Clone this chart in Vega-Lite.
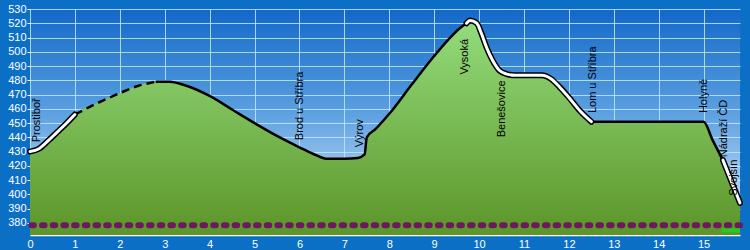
{
  "$schema": "https://vega.github.io/schema/vega-lite/v6.json",
  "width": 710,
  "height": 226,
  "autosize": {"type": "none"},
  "padding": {"left": 30, "top": 9, "right": 10, "bottom": 15},
  "background": "#0b6fc6",
  "config": {
    "view": {
      "stroke": null,
      "fill": {"gradient": "linear", "x1": 0, "y1": 0, "x2": 0, "y2": 1, "stops": [{"offset": 0, "color": "#1268c8"}, {"offset": 0.45, "color": "#5a9fe0"}, {"offset": 1, "color": "#e2f0fb"}]}
    },
    "axis": {"labelFont": "Liberation Sans", "labelFontSize": 11, "labelColor": "#ffffff", "title": null}
  },
  "datasets": {
    "pts": [
      {"km": 0, "elev": 430, "seg": "A", "sty": "white"},
      {"km": 0.2, "elev": 432, "seg": "A", "sty": "white"},
      {"km": 0.4, "elev": 437.5, "seg": "A", "sty": "white"},
      {"km": 0.6, "elev": 443.5, "seg": "A", "sty": "white"},
      {"km": 0.8, "elev": 449.5, "seg": "A", "sty": "white"},
      {"km": 1, "elev": 456, "seg": "A", "sty": "white"},
      {"km": 1, "elev": 456, "seg": "B", "sty": "dash"},
      {"km": 1.5, "elev": 464, "seg": "B", "sty": "dash"},
      {"km": 2, "elev": 471, "seg": "B", "sty": "dash"},
      {"km": 2.4, "elev": 476, "seg": "B", "sty": "dash"},
      {"km": 2.8, "elev": 479, "seg": "B", "sty": "dash"},
      {"km": 2.8, "elev": 479, "seg": "C", "sty": "solid"},
      {"km": 3.1, "elev": 479, "seg": "C", "sty": "solid"},
      {"km": 3.5, "elev": 476, "seg": "C", "sty": "solid"},
      {"km": 4, "elev": 469, "seg": "C", "sty": "solid"},
      {"km": 4.5, "elev": 459.5, "seg": "C", "sty": "solid"},
      {"km": 5, "elev": 450, "seg": "C", "sty": "solid"},
      {"km": 5.5, "elev": 441, "seg": "C", "sty": "solid"},
      {"km": 6, "elev": 433, "seg": "C", "sty": "solid"},
      {"km": 6.3, "elev": 428.5, "seg": "C", "sty": "solid"},
      {"km": 6.6, "elev": 425, "seg": "C", "sty": "solid"},
      {"km": 7, "elev": 425, "seg": "C", "sty": "solid"},
      {"km": 7.3, "elev": 425.5, "seg": "C", "sty": "solid"},
      {"km": 7.45, "elev": 428, "seg": "C", "sty": "solid"},
      {"km": 7.5, "elev": 440, "seg": "C", "sty": "solid"},
      {"km": 7.7, "elev": 446, "seg": "C", "sty": "solid"},
      {"km": 8, "elev": 456.5, "seg": "C", "sty": "solid"},
      {"km": 8.5, "elev": 477, "seg": "C", "sty": "solid"},
      {"km": 9, "elev": 497, "seg": "C", "sty": "solid"},
      {"km": 9.3, "elev": 508, "seg": "C", "sty": "solid"},
      {"km": 9.55, "elev": 516, "seg": "C", "sty": "solid"},
      {"km": 9.72, "elev": 520, "seg": "C", "sty": "solid"},
      {"km": 9.72, "elev": 520, "seg": "D", "sty": "white"},
      {"km": 9.8, "elev": 522, "seg": "D", "sty": "white"},
      {"km": 9.95, "elev": 520, "seg": "D", "sty": "white"},
      {"km": 10.05, "elev": 513, "seg": "D", "sty": "white"},
      {"km": 10.18, "elev": 502, "seg": "D", "sty": "white"},
      {"km": 10.3, "elev": 494, "seg": "D", "sty": "white"},
      {"km": 10.45, "elev": 487, "seg": "D", "sty": "white"},
      {"km": 10.6, "elev": 484.5, "seg": "D", "sty": "white"},
      {"km": 10.8, "elev": 483.5, "seg": "D", "sty": "white"},
      {"km": 11.1, "elev": 483.5, "seg": "D", "sty": "white"},
      {"km": 11.4, "elev": 483.5, "seg": "D", "sty": "white"},
      {"km": 11.6, "elev": 481, "seg": "D", "sty": "white"},
      {"km": 11.8, "elev": 475, "seg": "D", "sty": "white"},
      {"km": 12, "elev": 468, "seg": "D", "sty": "white"},
      {"km": 12.25, "elev": 458.5, "seg": "D", "sty": "white"},
      {"km": 12.5, "elev": 451, "seg": "D", "sty": "white"},
      {"km": 12.5, "elev": 451, "seg": "E", "sty": "solid"},
      {"km": 15, "elev": 451, "seg": "E", "sty": "solid"},
      {"km": 15.2, "elev": 438, "seg": "E", "sty": "solid"},
      {"km": 15.43, "elev": 424, "seg": "E", "sty": "solid"},
      {"km": 15.43, "elev": 424, "seg": "F", "sty": "white"},
      {"km": 15.62, "elev": 409, "seg": "F", "sty": "white"},
      {"km": 15.81, "elev": 394, "seg": "F", "sty": "white"}
    ],
    "places": [
      {"km": 0.16, "elev": 436.5, "name": "Prostiboř"},
      {"km": 6.02, "elev": 438, "name": "Brod u Stříbra"},
      {"km": 7.35, "elev": 433, "name": "Výrov"},
      {"km": 9.69, "elev": 484, "name": "Vysoká"},
      {"km": 10.52, "elev": 440, "name": "Benešovice"},
      {"km": 12.53, "elev": 457, "name": "Lom u Stříbra"},
      {"km": 15.01, "elev": 457, "name": "Holyně"},
      {"km": 15.45, "elev": 426, "name": "Nádraží ČD"},
      {"km": 15.67, "elev": 399, "name": "Svojšín"}
    ],
    "rail": [
      {"km": 0.03, "elev": 378.3, "kind": "rail"},
      {"km": 15.81, "elev": 378.3, "kind": "rail"},
      {"km": 15.4, "elev": 374.7, "kind": "green"},
      {"km": 15.81, "elev": 374.7, "kind": "green"}
    ]
  },
  "encoding": {
    "x": {"field": "km", "type": "quantitative", "scale": {"domain": [0, 15.81], "nice": false, "zero": false},
      "axis": {"values": [0,1,2,3,4,5,6,7,8,9,10,11,12,13,14,15], "grid": true, "gridColor": "#bfe6ff", "gridOpacity": 0.85, "domain": true, "domainColor": "#ffffff", "domainWidth": 1.5, "ticks": false, "labelPadding": 3, "labelFlush": false}},
    "y": {"field": "elev", "type": "quantitative", "scale": {"domain": [371.5, 530], "nice": false, "zero": false},
      "axis": {"values": [380,390,400,410,420,430,440,450,460,470,480,490,500,510,520,530], "grid": true, "gridColor": "#bfe6ff", "gridOpacity": 0.85, "domain": false, "tickColor": "#ffffff", "tickSize": 3, "labelPadding": 1}}
  },
  "layer": [
    {
      "data": {"name": "pts"},
      "transform": [{"aggregate": [{"op": "mean", "field": "elev", "as": "elev"}], "groupby": ["km"]}],
      "mark": {"type": "area", "interpolate": "monotone", "clip": true,
        "fill": {"gradient": "linear", "x1": 0, "y1": 0, "x2": 0, "y2": 1, "stops": [{"offset": 0, "color": "#93dc7d"}, {"offset": 0.5, "color": "#78b952"}, {"offset": 1, "color": "#5c9529"}]}},
      "encoding": {
        "y": {"field": "elev", "type": "quantitative", "stack": null},
        "y2": {"datum": 371.5}
      }
    },
    {
      "data": {"name": "rail"},
      "transform": [{"filter": "datum.kind == 'rail'"}],
      "mark": {"type": "line", "color": "#6b1a5e", "strokeWidth": 6, "strokeDash": [2.5, 8.2], "strokeCap": "round"},
      "encoding": {}
    },
    {
      "data": {"name": "rail"},
      "transform": [{"filter": "datum.kind == 'green'"}],
      "mark": {"type": "line", "color": "#22cc22", "strokeWidth": 4},
      "encoding": {}
    },
    {
      "data": {"name": "pts"},
      "transform": [{"filter": "datum.sty == 'solid'"}],
      "mark": {"type": "line", "interpolate": "monotone", "color": "#000000", "strokeWidth": 2.5},
      "encoding": {"detail": {"field": "seg"}}
    },
    {
      "data": {"name": "pts"},
      "transform": [{"filter": "datum.sty == 'dash'"}],
      "mark": {"type": "line", "interpolate": "monotone", "color": "#000000", "strokeWidth": 2.5, "strokeDash": [8, 5]},
      "encoding": {"detail": {"field": "seg"}}
    },
    {
      "data": {"name": "pts"},
      "transform": [{"filter": "datum.sty == 'white'"}],
      "mark": {"type": "line", "interpolate": "monotone", "color": "#000000", "strokeWidth": 6, "strokeCap": "round"},
      "encoding": {"detail": {"field": "seg"}}
    },
    {
      "data": {"name": "pts"},
      "transform": [{"filter": "datum.sty == 'white'"}],
      "mark": {"type": "line", "interpolate": "monotone", "color": "#ffffff", "strokeWidth": 3, "strokeCap": "round"},
      "encoding": {"detail": {"field": "seg"}}
    },
    {
      "data": {"name": "places"},
      "mark": {"type": "text", "angle": 270, "align": "left", "baseline": "middle", "font": "Liberation Sans", "fontSize": 11, "color": "#000000"},
      "encoding": {"text": {"field": "name"}}
    }
  ]
}
